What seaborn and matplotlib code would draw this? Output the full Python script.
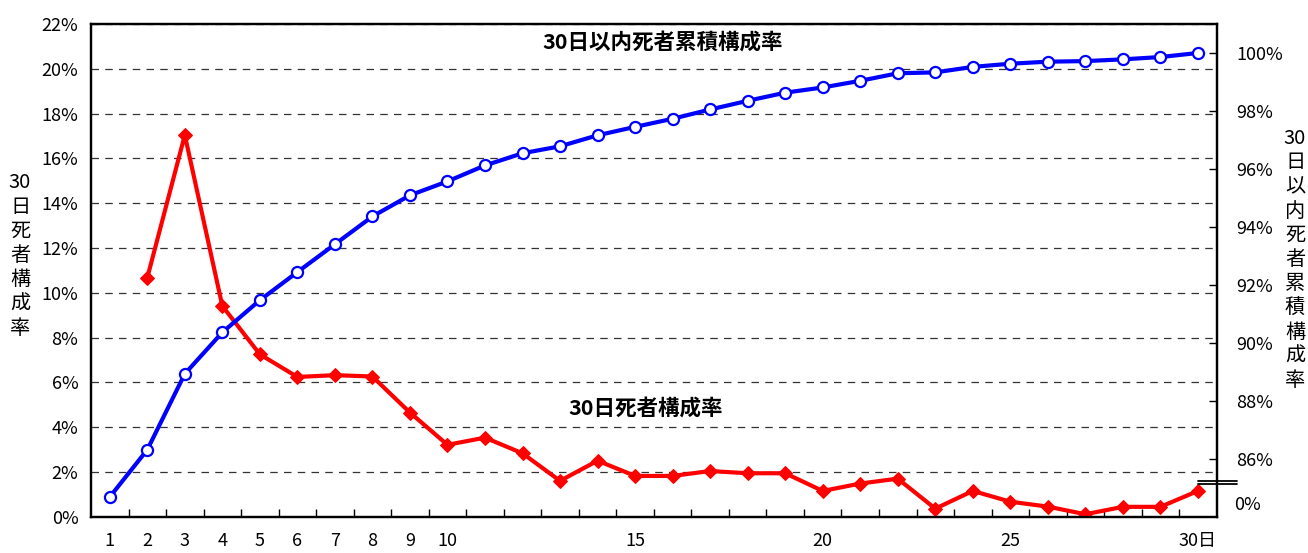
import numpy as np
import pandas as pd
import matplotlib
matplotlib.use("Agg")
import matplotlib.pyplot as plt
from matplotlib.lines import Line2D
from matplotlib.ticker import FixedLocator
import seaborn as sns

# ---- data ----
days = list(range(1, 31))
day_labels = ["1", "2", "3", "4", "5", "6", "7", "8", "9", "10", "15", "20", "25", "30日"]
day_label_pos = [1, 2, 3, 4, 5, 6, 7, 8, 9, 10, 15, 20, 25, 30]

# 30日死者構成率 (%), left axis (day 1 not plotted)
death_share = [np.nan, 10.67, 17.04, 9.41, 7.25, 6.24, 6.32, 6.26, 4.65, 3.21,
               3.53, 2.83, 1.60, 2.50, 1.82, 1.82, 2.04, 1.94, 1.94, 1.15,
               1.48, 1.70, 0.36, 1.15, 0.67, 0.45, 0.11, 0.44, 0.44, 1.15]

# 30日以内死者累積構成率 (%), right axis
cumulative_share = [84.68, 86.31, 88.93, 90.36, 91.47, 92.44, 93.40, 94.36, 95.09, 95.57,
                    96.12, 96.54, 96.78, 97.16, 97.45, 97.73, 98.05, 98.35, 98.63, 98.81,
                    99.04, 99.30, 99.33, 99.52, 99.63, 99.70, 99.72, 99.78, 99.86, 100.0]

left_ticks = list(range(0, 23, 2))
right_ticks = list(range(86, 101, 2))

title_cum = "30日以内死者累積構成率"
title_share = "30日死者構成率"
ylabel_left = "30日死者構成率"
ylabel_right = "30日以内死者累積構成率"

# ---- style ----
sns.set_style("white")
plt.rcParams["font.family"] = ["Noto Sans CJK JP", "DejaVu Sans"]
plt.rcParams["text.color"] = "black"

df = pd.DataFrame({"day": days, "share": death_share, "cum": cumulative_share})

W, H = 1308, 553
fig = plt.figure(figsize=(W / 100, H / 100), dpi=100)
ax = fig.add_axes([91 / W, 1 - 516.7 / H, (1216.7 - 91) / W, (516.7 - 24) / H])
ax2 = ax.twinx()

sns.lineplot(data=df.dropna(subset=["share"]), x="day", y="share", ax=ax, color="#FF0000",
             linewidth=3, marker="D", markersize=7, markerfacecolor="#FF0000",
             markeredgecolor="#FF0000", zorder=3)
sns.lineplot(data=df, x="day", y="cum", ax=ax2, color="#0000FF",
             linewidth=3, marker="o", markersize=8, markerfacecolor="white",
             markeredgecolor="#0000FF", markeredgewidth=1.6, zorder=3)

# left axis
ax.set_xlim(0.5, 30.5)
ax.set_ylim(0, 22)
ax.set_yticks(left_ticks)
ax.set_yticklabels([f"{v}%" for v in left_ticks])
ax.tick_params(axis="y", which="major", length=0, pad=9, labelsize=13, colors="black")
ax.yaxis.grid(True, linestyle=(0, (6, 5)), color="#333333", linewidth=0.9)
ax.xaxis.grid(False)
ax.set_xlabel("")
ax.set_ylabel("")

# x axis
ax.set_xticks(day_label_pos)
ax.set_xticklabels(day_labels)
ax.xaxis.set_minor_locator(FixedLocator([d + 0.5 for d in days[:-1]]))
ax.tick_params(axis="x", which="major", length=0, pad=11, labelsize=13, colors="black")
ax.tick_params(axis="x", which="minor", direction="in", length=6, width=1, color="black", bottom=True)

# right axis
ax2.set_ylim(84, 101)
ax2.set_yticks(right_ticks)
ax2.set_yticklabels([f"{v}%" for v in right_ticks])
ax2.tick_params(axis="y", direction="in", length=6, width=1, pad=14, labelsize=13, colors="black")
ax2.set_ylabel("")
ax2.grid(False)

for a in (ax, ax2):
    for s in a.spines.values():
        s.set_color("black")
        s.set_linewidth(1.6)

# annotations
ax.text(15.73, 21.2, title_cum, ha="center", va="center", fontsize=15.5,
        fontweight="bold", color="black")
ax.text(15.28, 4.84, title_share, ha="center", va="center", fontsize=15.5,
        fontweight="bold", color="black")

# vertical stacked axis titles
def stacked(s):
    parts = [s[:2]] + list(s[2:])
    return "\n".join(parts)

fig.text(20 / W, 1 - 255.5 / H, stacked(ylabel_left), ha="center", va="center",
         fontsize=14.5, linespacing=1.2, color="black")
fig.text(1295 / W, 1 - 259.5 / H, stacked(ylabel_right), ha="center", va="center",
         fontsize=14.5, linespacing=1.2, color="black")

# axis break symbol and "0%" label on right axis
for yp in (480.7, 484.0):
    fig.add_artist(Line2D([1198.3 / W, 1237.3 / W], [1 - yp / H, 1 - yp / H],
                          color="black", linewidth=1.3))
fig.text(1234 / W, 1 - 505 / H, "0%", ha="left", va="center", fontsize=13, color="black")

fig.savefig("out.png", dpi=100)
